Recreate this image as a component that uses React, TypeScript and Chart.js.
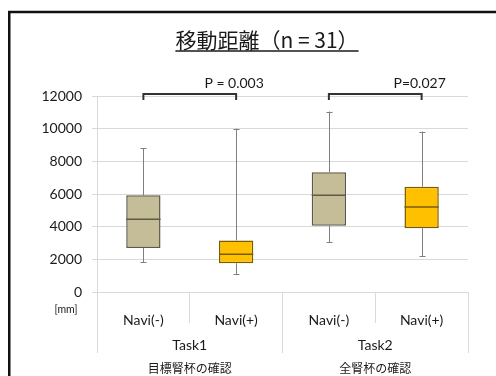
import React, { useEffect, useRef } from "react";
import { Chart, registerables } from "chart.js";

Chart.register(...registerables);

// Box-plot summary per group (mm)
const categories = ["Navi(-)", "Navi(+)", "Navi(-)", "Navi(+)"];
const taskLabels = ["Task1", "Task2"];
const taskNames = ["目標腎杯の確認", "全腎杯の確認"];
const whiskerMin = [1820, 1080, 3040, 2200];
const q1 = [2700, 1760, 4060, 3900];
const median = [4450, 2310, 5920, 5200];
const q3 = [5920, 3160, 7330, 6450];
const whiskerMax = [8800, 10000, 11050, 9820];
const pLabels = ["P = 0.003", "P=0.027"];
const pPairs = [
  [0, 1],
  [2, 3],
];
const yTicks = [0, 2000, 4000, 6000, 8000, 10000, 12000];

const TITLE = "移動距離（n = 31）";
const UNIT = "[mm]";

const fills = ["#C4BD97", "#FFC000", "#C4BD97", "#FFC000"];
const edges = ["#5E5A48", "#7A5C00", "#5E5A48", "#7A5C00"];

const LATIN = "Lato, 'Open Sans', sans-serif";
const CJK = "'Noto Sans CJK JP', sans-serif";
const TEXT = "#1a1a1a";
const GRID = "#D9D9D9";

const boxPlotPlugin = {
  id: "boxExtras",
  beforeDraw(chart: any) {
    const ctx = chart.ctx;
    ctx.save();
    ctx.fillStyle = "#ffffff";
    ctx.fillRect(0, 0, chart.width, chart.height);
    // outer frame
    ctx.strokeStyle = "#111";
    ctx.lineWidth = 2.5;
    ctx.beginPath();
    ctx.moveTo(9.25, chart.height + 2);
    ctx.lineTo(9.25, 12);
    ctx.lineTo(chart.width + 2, 12);
    ctx.stroke();
    ctx.restore();
  },
  beforeDatasetsDraw(chart: any) {
    const { ctx, scales } = chart;
    const x = scales.x;
    const y = scales.y;
    ctx.save();
    ctx.strokeStyle = "#7F7F7F";
    ctx.lineWidth = 1;
    const cap = 3;
    categories.forEach((_, i) => {
      const cx = Math.round(x.getPixelForValue(i)) + 0.5;
      const yMin = y.getPixelForValue(whiskerMin[i]);
      const yMax = y.getPixelForValue(whiskerMax[i]);
      ctx.beginPath();
      ctx.moveTo(cx, y.getPixelForValue(q3[i]));
      ctx.lineTo(cx, yMax);
      ctx.moveTo(cx - cap, Math.round(yMax) + 0.5);
      ctx.lineTo(cx + cap, Math.round(yMax) + 0.5);
      ctx.moveTo(cx, y.getPixelForValue(q1[i]));
      ctx.lineTo(cx, yMin);
      ctx.moveTo(cx - cap, Math.round(yMin) + 0.5);
      ctx.lineTo(cx + cap, Math.round(yMin) + 0.5);
      ctx.stroke();
    });
    ctx.restore();
  },
  afterDatasetsDraw(chart: any) {
    const { ctx, scales } = chart;
    const x = scales.x;
    const y = scales.y;
    const meta = chart.getDatasetMeta(0);
    ctx.save();
    ctx.lineWidth = 1.5;
    categories.forEach((_, i) => {
      const bar = meta.data[i];
      const half = bar.width / 2;
      const cx = x.getPixelForValue(i);
      const my = y.getPixelForValue(median[i]);
      ctx.strokeStyle = edges[i];
      ctx.beginPath();
      ctx.moveTo(cx - half, my);
      ctx.lineTo(cx + half, my);
      ctx.stroke();
    });
    ctx.restore();
  },
  afterDraw(chart: any) {
    const { ctx, scales } = chart;
    const x = scales.x;
    const y = scales.y;
    ctx.save();
    // title with underline
    ctx.fillStyle = TEXT;
    ctx.font = `21px ${CJK}`;
    ctx.textAlign = "center";
    ctx.textBaseline = "alphabetic";
    const tx = 267;
    const ty = 48;
    ctx.fillText(TITLE, tx, ty);
    const tw = ctx.measureText(TITLE).width;
    ctx.strokeStyle = TEXT;
    ctx.lineWidth = 1.5;
    ctx.beginPath();
    ctx.moveTo(tx - tw / 2, ty + 3);
    ctx.lineTo(tx + tw / 2, ty + 3);
    ctx.stroke();

    // significance brackets
    const topY = y.getPixelForValue(12000) - 2;
    ctx.strokeStyle = "#333";
    ctx.lineWidth = 2;
    ctx.font = `14px ${LATIN}`;
    ctx.textBaseline = "middle";
    pPairs.forEach(([a, b], k) => {
      const xa = x.getPixelForValue(a);
      const xb = x.getPixelForValue(b);
      ctx.beginPath();
      ctx.moveTo(xa, topY + 6);
      ctx.lineTo(xa, topY);
      ctx.lineTo(xb, topY);
      ctx.lineTo(xb, topY + 6);
      ctx.stroke();
      ctx.fillStyle = TEXT;
      ctx.textAlign = "center";
      ctx.fillText(pLabels[k], xb - 2, topY - 11);
    });

    // unit label under the y axis
    ctx.font = `10.5px ${LATIN}`;
    ctx.textAlign = "center";
    ctx.fillText(UNIT, 66, y.getPixelForValue(0) + 18);
    ctx.restore();
  },
};

export default function App() {
  const ref = useRef<HTMLCanvasElement | null>(null);

  useEffect(() => {
    if (!ref.current) return;
    const chart = new Chart(ref.current, {
      type: "bar",
      data: {
        labels: categories,
        datasets: [
          {
            data: categories.map((_, i) => [q1[i], q3[i]]) as any,
            backgroundColor: fills,
            borderColor: edges,
            borderWidth: 1.5,
            borderSkipped: false,
            barPercentage: 0.37,
            categoryPercentage: 1,
          },
        ],
      },
      options: {
        animation: false,
        responsive: false,
        maintainAspectRatio: false,
        layout: { padding: { left: 0, right: 28, top: 96, bottom: 0 } },
        plugins: {
          legend: { display: false },
          title: { display: false },
          tooltip: { enabled: false },
        },
        scales: {
          y: {
            min: 0,
            max: 12000,
            afterFit: (s: any) => {
              s.width = 97;
            },
            afterBuildTicks: (s: any) => {
              s.ticks = yTicks.map((v) => ({ value: v }));
            },
            grid: { color: GRID, tickLength: 5, lineWidth: 1 },
            border: { display: true, color: GRID },
            ticks: {
              padding: 10,
              color: TEXT,
              font: { family: LATIN, size: 14 },
              callback: (v: any) => String(v),
            },
          },
          x: {
            type: "category",
            offset: true,
            afterFit: (s: any) => {
              s.height = 31;
            },
            grid: {
              offset: true,
              drawOnChartArea: false,
              tickLength: 31,
              color: GRID,
            },
            border: { display: true, color: GRID },
            ticks: {
              mirror: true,
              padding: -37,
              color: TEXT,
              maxRotation: 0,
              font: { family: LATIN, size: 14 },
            },
          },
          x2: {
            type: "category",
            position: "bottom",
            labels: taskLabels,
            offset: true,
            afterFit: (s: any) => {
              s.height = 30;
            },
            grid: {
              offset: true,
              drawOnChartArea: false,
              tickLength: 30,
              color: GRID,
            },
            border: { display: false },
            ticks: {
              padding: -16,
              color: TEXT,
              maxRotation: 0,
              font: { family: LATIN, size: 14 },
            },
          },
          x3: {
            type: "category",
            position: "bottom",
            labels: taskNames,
            offset: true,
            afterFit: (s: any) => {
              s.height = 23;
            },
            grid: { display: false, drawTicks: false },
            border: { display: false },
            ticks: {
              padding: 8,
              color: TEXT,
              maxRotation: 0,
              font: { family: CJK, size: 12 },
            },
          },
        },
      },
      plugins: [boxPlotPlugin],
    });
    return () => chart.destroy();
  }, []);

  return (
    <div
      style={{
        position: "absolute",
        left: 0,
        top: 0,
        width: 496,
        height: 376,
        background: "#fff",
      }}
    >
      <canvas ref={ref} width={496} height={376} />
    </div>
  );
}
